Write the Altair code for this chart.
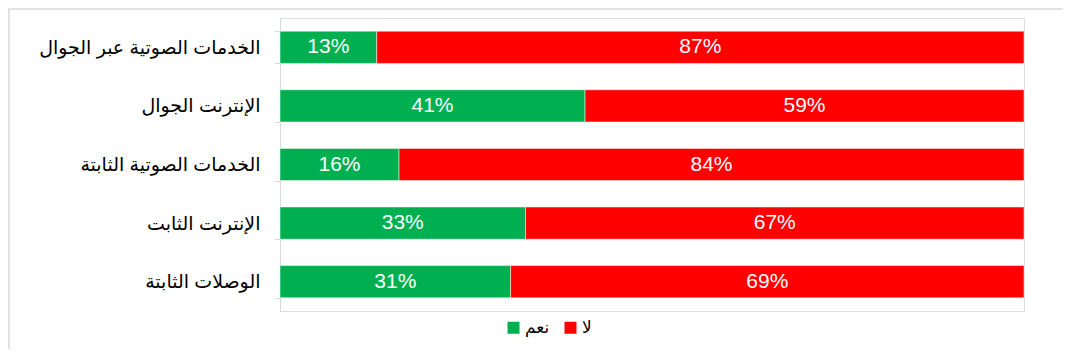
import altair as alt
import pandas as pd

categories = [
    "الخدمات الصوتية عبر الجوال",
    "الإنترنت الجوال",
    "الخدمات الصوتية الثابتة",
    "الإنترنت الثابت",
    "الوصلات الثابتة",
]
yes_values = [13, 41, 16, 33, 31]
no_values = [87, 59, 84, 67, 69]
series = ["نعم", "لا"]
colors = ["#00B050", "#FF0000"]

rows = []
for c, y, n in zip(categories, yes_values, no_values):
    rows.append({"category": c, "series": series[0], "value": y, "order": 0})
    rows.append({"category": c, "series": series[1], "value": n, "order": 1})
df = pd.DataFrame(rows)

FONT = "Liberation Sans, Arial, DejaVu Sans"

base = alt.Chart(df).transform_stack(
    stack="value", groupby=["category"], as_=["x0", "x1"],
    sort=[alt.SortField("order", order="ascending")],
).transform_calculate(mid="(datum.x0 + datum.x1) / 2", label="datum.value + '%'")

yenc = alt.Y(
    "category:N", sort=categories, title=None,
    scale=alt.Scale(paddingInner=0.45, paddingOuter=0.225),
    axis=alt.Axis(
        tickBand="extent", domainColor="#d9d9d9", tickColor="#d9d9d9",
        tickSize=6, labelFontSize=19, labelFont=FONT, labelColor="#000000",
        labelPadding=14, labelLimit=400,
    ),
)

bars = base.mark_bar(stroke="#ffffff", strokeWidth=0.5).encode(
    y=yenc,
    x=alt.X("x0:Q", scale=alt.Scale(domain=[0, 100]), axis=None),
    x2="x1:Q",
    color=alt.Color(
        "series:N", scale=alt.Scale(domain=series, range=colors),
        legend=alt.Legend(
            title=None, orient="none", direction="horizontal",
            legendX=225, legendY=301, symbolType="square", symbolSize=144,
            symbolStrokeWidth=0, labelFontSize=17, labelFont=FONT,
            labelColor="#000000", labelOffset=3, columnPadding=12,
        ),
    ),
)

texts = base.mark_text(color="white", fontSize=21, font=FONT, baseline="middle").encode(
    y=alt.Y("category:N", sort=categories),
    x=alt.X("mid:Q", scale=alt.Scale(domain=[0, 100])),
    text="label:N",
)

frame = alt.Chart(pd.DataFrame({"f": [0]})).mark_rect(
    fill=None, stroke="#d9d9d9", strokeWidth=1.5, clip=False
).encode(
    x=alt.value(-271), x2=alt.value(900), y=alt.value(-9), y2=alt.value(500)
)

chart = alt.layer(frame, bars, texts).properties(
    width=744, height=293,
    autosize=alt.AutoSizeParams(type="none"),
    padding={"left": 272, "top": 10, "right": 39, "bottom": 38},
).configure_view(stroke=None).configure(background="white")

chart.save("out.html", embed_options={"renderer": "svg", "actions": False})
